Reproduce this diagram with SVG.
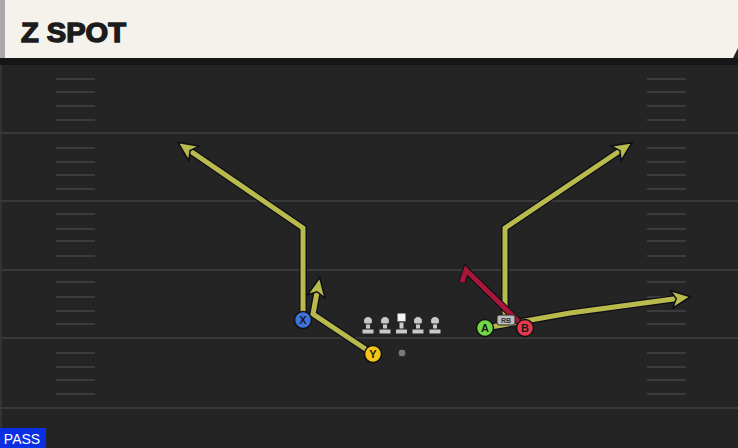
<svg xmlns="http://www.w3.org/2000/svg" width="738" height="448" viewBox="0 0 738 448">
<style>
.yl{stroke:#393939;stroke-width:2}
.hm{stroke:#3b3b3b;stroke-width:2}
.ol{fill:none;stroke:#0e0e18;stroke-width:7.5;stroke-linejoin:miter;stroke-linecap:butt}
.rt{fill:none;stroke:#b9ba4c;stroke-width:5;stroke-linejoin:miter}
.blk{fill:none;stroke:#a8173a;stroke-width:5;stroke-linejoin:miter}
.pl{stroke:#111;stroke-width:1.5}
.lbl{font-family:"Liberation Sans",Arial,sans-serif;font-weight:bold;font-size:11px;fill:#1a1a1a;text-anchor:middle}
.ln{fill:#c9c9c9;stroke:#222;stroke-width:1}
</style>
<defs>
<marker id="ah" viewBox="0 0 16 16" refX="8" refY="8" markerWidth="22" markerHeight="22" markerUnits="userSpaceOnUse" orient="auto">
<path d="M1,1.5 L15,8 L1,14.5 L4.5,8 Z" fill="#b9ba4c" stroke="#0e0e18" stroke-width="1.1" stroke-linejoin="miter"/>
</marker>
</defs>
<rect width="738" height="448" fill="#242424"/>
<rect x="0" y="0" width="2" height="448" fill="#333"/>
<g id="field">
<line class="yl" x1="0" y1="133" x2="738" y2="133"/>
<line class="yl" x1="0" y1="201" x2="738" y2="201"/>
<line class="yl" x1="0" y1="270" x2="738" y2="270"/>
<line class="yl" x1="0" y1="338" x2="738" y2="338"/>
<line class="yl" x1="0" y1="408" x2="738" y2="408"/>
<g id="hashes">
<path class="hm" d="M56,79H95M56,92H95M56,106H95M56,120H95M56,148H95M56,162H95M56,175H95M56,189H95M56,214H95M56,229H95M56,241H95M56,256H95M56,282H95M56,297H95M56,311H95M56,324H95M56,353H95M56,367H95M56,380H95M56,394H95"/>
<path class="hm" d="M647,79H686M647,92H686M647,106H686M647,120H686M647,148H686M647,162H686M647,175H686M647,189H686M647,214H686M647,229H686M647,241H686M647,256H686M647,282H686M647,297H686M647,311H686M647,324H686M647,353H686M647,367H686M647,380H686M647,394H686"/>
</g>
</g>
<g id="header">
<rect x="0" y="58" width="738" height="7" fill="#161616"/>
<path d="M0,0 H738 V48 L733,58 H0 Z" fill="#f5f2eb"/>
<rect x="0" y="0" width="5" height="58" fill="#a9a9a9"/>
<text x="21" y="42" font-family="'Liberation Sans',Arial,sans-serif" font-weight="bold" font-size="27" fill="#1c1c1c" stroke="#1c1c1c" stroke-width="1.4" textLength="105" lengthAdjust="spacingAndGlyphs">Z SPOT</text>
</g>
<g id="connectors">
<path class="ol" d="M303,320 V228 L186,148"/>
<path class="rt" d="M303,320 V228 L186,148" marker-end="url(#ah)"/>
<path class="ol" d="M373,354 L313,314 L318,287"/>
<path class="rt" d="M373,354 L313,314 L318,287" marker-end="url(#ah)"/>
<path class="ol" d="M505,320 V228 L624,148"/>
<path class="rt" d="M505,320 V228 L624,148" marker-end="url(#ah)"/>
<path class="ol" d="M485,328 L570,313 L681,298"/>
<path class="rt" d="M485,328 L570,313 L681,298" marker-end="url(#ah)"/>
<path d="M525,328 L466,270 L462,282" fill="none" stroke="#0e0e18" stroke-width="7"/>
<path class="blk" d="M525,328 L466,270 L462,282"/>
</g>
<g id="line">
<g id="lt1"><circle class="ln" cx="368" cy="321" r="4.5"/><rect class="ln" x="365.5" y="324" width="5" height="6"/><rect class="ln" x="362" y="329" width="12" height="5"/></g>
<g id="lt2"><circle class="ln" cx="385" cy="321" r="4.5"/><rect class="ln" x="382.5" y="324" width="5" height="6"/><rect class="ln" x="379" y="329" width="12" height="5"/></g>
<g id="center"><rect x="397" y="313" width="9" height="9" fill="#f4f4f4" stroke="#222" stroke-width="1"/><rect class="ln" x="399" y="322" width="5" height="8"/><rect class="ln" x="395.5" y="329" width="12" height="5"/></g>
<g id="rt1"><circle class="ln" cx="418" cy="321" r="4.5"/><rect class="ln" x="415.5" y="324" width="5" height="6"/><rect class="ln" x="412" y="329" width="12" height="5"/></g>
<g id="rt2"><circle class="ln" cx="435" cy="321" r="4.5"/><rect class="ln" x="432.5" y="324" width="5" height="6"/><rect class="ln" x="429" y="329" width="12" height="5"/></g>
<circle id="ball" cx="402" cy="353" r="4" fill="#7a7a7a" stroke="#222" stroke-width="1"/>
</g>
<g id="rb">
<rect x="497" y="315" width="18" height="10" rx="2" fill="#bdbdbd" stroke="#222" stroke-width="1"/>
<text x="506" y="323" font-family="'Liberation Sans',Arial,sans-serif" font-weight="bold" font-size="7" fill="#333" text-anchor="middle">RB</text>
</g>
<g id="X"><circle class="pl" cx="303" cy="320" r="8.5" fill="#3f72dc"/><text class="lbl" x="303" y="324">X</text></g>
<g id="Y"><circle class="pl" cx="373" cy="354" r="8.5" fill="#f3c51a"/><text class="lbl" x="373" y="358">Y</text></g>
<g id="A"><circle class="pl" cx="485" cy="328" r="8.5" fill="#72d646"/><text class="lbl" x="485" y="332">A</text></g>
<g id="B"><circle class="pl" cx="525" cy="328" r="8.5" fill="#e8394c"/><text class="lbl" x="525" y="332">B</text></g>
<g id="pass">
<rect x="0" y="428" width="46" height="20" fill="#0b2fe3"/>
<text x="22" y="444" font-family="'Liberation Sans',Arial,sans-serif" font-size="14" fill="#ffffff" text-anchor="middle">PASS</text>
</g>
</svg>
